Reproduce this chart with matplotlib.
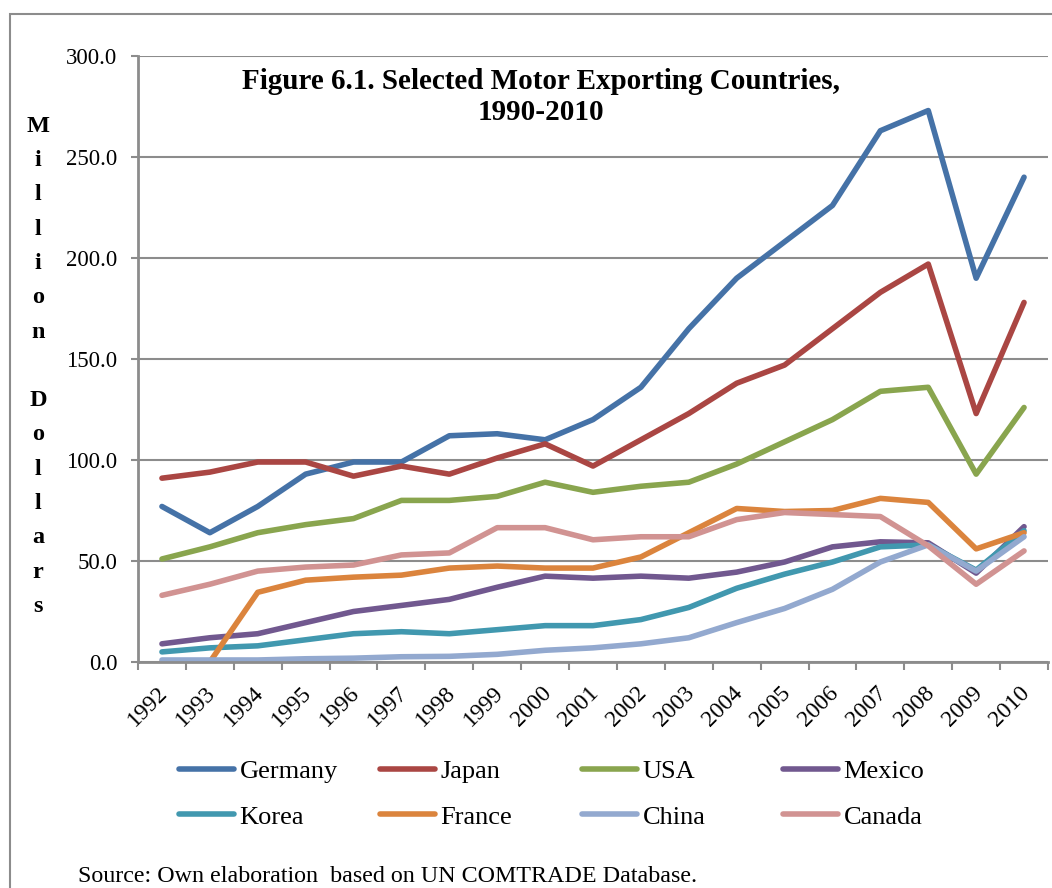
import matplotlib
matplotlib.use('Agg')
import matplotlib.pyplot as plt
import matplotlib.transforms as mtransforms
from matplotlib.patches import Rectangle
from matplotlib.ticker import FormatStrFormatter
import numpy as np

plt.rcParams['font.family'] = ['Liberation Serif', 'DejaVu Serif']

years = [str(y) for y in range(1992, 2011)]
germany = [77, 64, 77, 93, 99, 99, 112, 113, 110, 120, 136, 165, 190, 208, 226, 263, 273, 190, 240]
japan = [91, 94, 99, 99, 92, 97, 93, 101, 108, 97, 110, 123, 138, 147, 165, 183, 197, 123, 178]
usa = [51, 57, 64, 68, 71, 80, 80, 82, 89, 84, 87, 89, 98, 109, 120, 134, 136, 93, 126]
mexico = [9, 12, 14, 19.5, 25, 28, 31, 37, 42.5, 41.5, 42.5, 41.5, 44.5, 49.5, 57, 59.5, 59, 44, 67]
korea = [5, 7, 8, 11, 14, 15, 14, 16, 18, 18, 21, 27, 36.5, 43.5, 49.5, 57, 58, 45.5, 65]
france = [0, 0, 34.5, 40.5, 42, 43, 46.5, 47.5, 46.5, 46.5, 52, 64, 76, 74.5, 75, 81, 79, 56, 64]
china = [1, 1, 1, 1.6, 1.9, 2.6, 2.8, 3.8, 5.8, 7, 9, 12, 19.5, 26.5, 36, 49.5, 58, 45, 62]
canada = [33, 38.5, 45, 47, 48, 53, 54, 66.5, 66.5, 60.5, 62, 62, 70.5, 74, 73, 72, 57.5, 38.5, 55]

series_names = ['Germany', 'Japan', 'USA', 'Mexico', 'Korea', 'France', 'China', 'Canada']
series_values = [germany, japan, usa, mexico, korea, france, china, canada]
colors = ['#4572A7', '#AA4643', '#89A54E', '#71588F', '#4198AF', '#DB843D', '#93A9CF', '#D19392']

W, H = 1052, 888
fig = plt.figure(figsize=(W / 100, H / 100), dpi=100)

# outer border
fig.add_artist(Rectangle((10 / W, -0.1), 1.2, 1 - 14 / H + 0.1, transform=fig.transFigure,
                         fill=False, edgecolor='#8c8c8c', lw=1.5))

ax = fig.add_axes([138 / W, 1 - 662 / H, 910 / W, 606 / H])
x = np.arange(len(years))
lines = []
for name, vals, c in zip(series_names, series_values, colors):
    ln, = ax.plot(x, vals, color=c, lw=4, solid_capstyle='round', solid_joinstyle='round', label=name)
    lines.append(ln)

ax.set_xlim(-0.5, len(years) - 0.5)
ax.set_ylim(0, 300)
ax.set_yticks(np.arange(0, 301, 50))
ax.yaxis.set_major_formatter(FormatStrFormatter('%.1f'))
ax.yaxis.grid(True, color='#8c8c8c', lw=1.5)
ax.set_axisbelow(True)
for s in ['top', 'right']:
    ax.spines[s].set_visible(False)
for s in ['left', 'bottom']:
    ax.spines[s].set_color('#8c8c8c')
    ax.spines[s].set_linewidth(2)
ax.tick_params(axis='y', length=5, width=1.5, color='#8c8c8c', pad=10, labelsize=16.5)

ax.set_xticks(np.arange(-0.5, len(years), 1))
ax.set_xticklabels([])
ax.tick_params(axis='x', which='major', length=6, width=1.5, color='#8c8c8c')
ax.set_xticks(x, minor=True)
ax.set_xticklabels(years, minor=True, rotation=45, ha='right', va='center', rotation_mode='anchor')
ax.tick_params(axis='x', which='minor', length=0, pad=20, labelsize=17)
off = mtransforms.ScaledTranslation(2 / 72, 0, fig.dpi_scale_trans)
for lab in ax.get_xticklabels(minor=True):
    lab.set_transform(lab.get_transform() + off)

# title
fig.text(541 / W, 1 - 97 / H, 'Figure 6.1. Selected Motor Exporting Countries,\n1990-2010',
         ha='center', va='center', fontsize=21, fontweight='bold', linespacing=1.15)

# vertical y-axis label, stacked letters
label = 'Million Dollars'
for i, ch in enumerate(label):
    if ch != ' ':
        fig.text(38 / W, 1 - (131.7 + 34.3 * i) / H, ch, ha='center', va='baseline',
                 fontsize=17.5, fontweight='bold')

# legend: 4 columns x 2 rows
col_x = [179, 380, 582, 783]
for j in range(4):
    leg = fig.legend(handles=[lines[j], lines[j + 4]], labels=[series_names[j], series_names[j + 4]],
                     loc='center left', bbox_to_anchor=(col_x[j] / W, 1 - 794 / H),
                     frameon=False, fontsize=19, handlelength=2.1, handletextpad=0.2,
                     labelspacing=0.85, borderpad=0, borderaxespad=0)

fig.text(78 / W, 1 - 882 / H, 'Source: Own elaboration  based on UN COMTRADE Database.',
         ha='left', va='baseline', fontsize=17.3)

fig.savefig('out.png', dpi=100)
